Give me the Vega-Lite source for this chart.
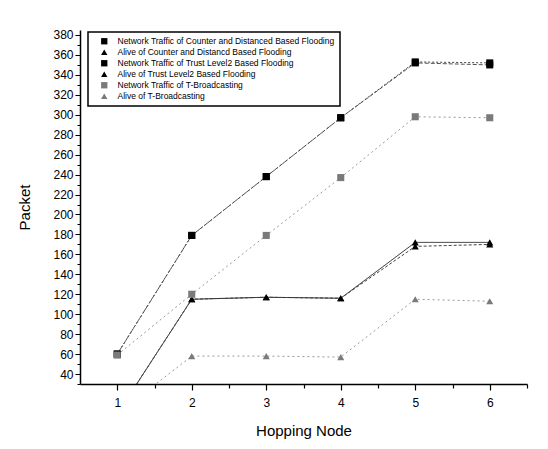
{
  "$schema": "https://vega.github.io/schema/vega-lite/v6.json",
  "autosize": "none",
  "width": 447,
  "height": 354,
  "padding": {"left": 80, "top": 30, "right": 21, "bottom": 65},
  "background": "white",
  "config": {
    "view": {"stroke": null},
    "font": "Liberation Sans",
    "legend": {"strokeWidth": 1.5},
    "axis": {"domainColor": "black", "tickColor": "black", "labelColor": "black", "titleColor": "black", "grid": false, "labelFont": "Liberation Sans", "titleFont": "Liberation Sans", "titleFontWeight": "normal"}
  },
  "data": {
    "values": [
      {"series": "Network Traffic of Counter and Distanced Based Flooding", "node": 1, "packet": 60},
      {"series": "Network Traffic of Counter and Distanced Based Flooding", "node": 2, "packet": 179},
      {"series": "Network Traffic of Counter and Distanced Based Flooding", "node": 3, "packet": 238},
      {"series": "Network Traffic of Counter and Distanced Based Flooding", "node": 4, "packet": 297},
      {"series": "Network Traffic of Counter and Distanced Based Flooding", "node": 5, "packet": 353},
      {"series": "Network Traffic of Counter and Distanced Based Flooding", "node": 6, "packet": 352},
      {"series": "Alive of Counter and Distancd Based Flooding", "node": 1, "packet": 0},
      {"series": "Alive of Counter and Distancd Based Flooding", "node": 2, "packet": 115},
      {"series": "Alive of Counter and Distancd Based Flooding", "node": 3, "packet": 117},
      {"series": "Alive of Counter and Distancd Based Flooding", "node": 4, "packet": 116},
      {"series": "Alive of Counter and Distancd Based Flooding", "node": 5, "packet": 172},
      {"series": "Alive of Counter and Distancd Based Flooding", "node": 6, "packet": 172},
      {"series": "Network Traffic of Trust Level2 Based Flooding", "node": 1, "packet": 60},
      {"series": "Network Traffic of Trust Level2 Based Flooding", "node": 2, "packet": 179},
      {"series": "Network Traffic of Trust Level2 Based Flooding", "node": 3, "packet": 238},
      {"series": "Network Traffic of Trust Level2 Based Flooding", "node": 4, "packet": 297},
      {"series": "Network Traffic of Trust Level2 Based Flooding", "node": 5, "packet": 352},
      {"series": "Network Traffic of Trust Level2 Based Flooding", "node": 6, "packet": 350},
      {"series": "Alive of Trust Level2 Based Flooding", "node": 1, "packet": 0},
      {"series": "Alive of Trust Level2 Based Flooding", "node": 2, "packet": 115},
      {"series": "Alive of Trust Level2 Based Flooding", "node": 3, "packet": 117},
      {"series": "Alive of Trust Level2 Based Flooding", "node": 4, "packet": 116},
      {"series": "Alive of Trust Level2 Based Flooding", "node": 5, "packet": 168},
      {"series": "Alive of Trust Level2 Based Flooding", "node": 6, "packet": 170},
      {"series": "Network Traffic of T-Broadcasting", "node": 1, "packet": 59},
      {"series": "Network Traffic of T-Broadcasting", "node": 2, "packet": 120},
      {"series": "Network Traffic of T-Broadcasting", "node": 3, "packet": 179},
      {"series": "Network Traffic of T-Broadcasting", "node": 4, "packet": 237},
      {"series": "Network Traffic of T-Broadcasting", "node": 5, "packet": 298},
      {"series": "Network Traffic of T-Broadcasting", "node": 6, "packet": 297},
      {"series": "Alive of T-Broadcasting", "node": 1, "packet": 0},
      {"series": "Alive of T-Broadcasting", "node": 2, "packet": 58},
      {"series": "Alive of T-Broadcasting", "node": 3, "packet": 58},
      {"series": "Alive of T-Broadcasting", "node": 4, "packet": 57},
      {"series": "Alive of T-Broadcasting", "node": 5, "packet": 115},
      {"series": "Alive of T-Broadcasting", "node": 6, "packet": 113}
    ]
  },
  "layer": [
    {
      "mark": {"type": "line", "clip": true, "strokeWidth": 1},
      "encoding": {
        "x": {"field": "node", "type": "quantitative", "scale": {"domain": [0.5, 6.5], "nice": false, "zero": false},
              "axis": {"orient": "bottom", "values": [1, 2, 3, 4, 5, 6], "title": "Hopping Node", "titleFontSize": 15, "labelFontSize": 12, "tickSize": 6, "labelPadding": 7, "titlePadding": 15, "domainWidth": 1.5, "tickWidth": 1.2, "labelFlush": false}},
        "y": {"field": "packet", "type": "quantitative", "scale": {"domain": [30, 385], "nice": false, "zero": false},
              "axis": {"orient": "left", "values": [40, 60, 80, 100, 120, 140, 160, 180, 200, 220, 240, 260, 280, 300, 320, 340, 360, 380], "title": "Packet", "titleFontSize": 15, "labelFontSize": 12, "tickSize": 5, "labelPadding": 2, "titlePadding": 20, "domainWidth": 1.5, "labelFlush": false}},
        "stroke": {"field": "series", "type": "nominal", "legend": null,
                  "scale": {"domain": ["Alive of T-Broadcasting", "Network Traffic of T-Broadcasting", "Alive of Trust Level2 Based Flooding", "Network Traffic of Trust Level2 Based Flooding", "Alive of Counter and Distancd Based Flooding", "Network Traffic of Counter and Distanced Based Flooding"],
                            "range": ["#999999", "#999999", "#444444", "#555555", "#222222", "#444444"]}},
        "strokeDash": {"field": "series", "type": "nominal", "legend": null,
                  "scale": {"domain": ["Alive of T-Broadcasting", "Network Traffic of T-Broadcasting", "Alive of Trust Level2 Based Flooding", "Network Traffic of Trust Level2 Based Flooding", "Alive of Counter and Distancd Based Flooding", "Network Traffic of Counter and Distanced Based Flooding"],
                            "range": [[2, 3], [2, 3], [3, 2], [4, 2], [1, 0], [2, 2]]}},
        "order": {"field": "node", "type": "quantitative"}
      }
    },
    {
      "mark": {"type": "point", "filled": true, "clip": true, "opacity": 1, "size": 50},
      "encoding": {
        "x": {"field": "node", "type": "quantitative", "scale": {"domain": [0.5, 6.5], "nice": false, "zero": false},
              "axis": {"orient": "bottom", "values": [1.5, 2.5, 3.5, 4.5, 5.5, 6.5], "labels": false, "title": null, "domain": false, "tickSize": 4, "tickWidth": 1.2}},
        "y": {"field": "packet", "type": "quantitative", "scale": {"domain": [30, 385], "nice": false, "zero": false},
              "axis": {"orient": "left", "values": [30, 50, 70, 90, 110, 130, 150, 170, 190, 210, 230, 250, 270, 290, 310, 330, 350, 370], "labels": false, "title": null, "domain": false, "tickSize": 3}},
        "color": {"field": "series", "type": "nominal",
                  "scale": {"domain": ["Network Traffic of Counter and Distanced Based Flooding", "Alive of Counter and Distancd Based Flooding", "Network Traffic of Trust Level2 Based Flooding", "Alive of Trust Level2 Based Flooding", "Network Traffic of T-Broadcasting", "Alive of T-Broadcasting"],
                            "range": ["#000000", "#000000", "#000000", "#000000", "#7a7a7a", "#7a7a7a"]},
                  "legend": {"title": null, "orient": "none", "legendX": 8, "legendY": 2, "direction": "vertical", "fillColor": "white", "strokeColor": "black", "padding": 5, "labelFontSize": 8.5, "labelFont": "Liberation Sans", "labelColor": "black", "labelLimit": 400, "symbolSize": 40, "rowPadding": 2, "symbolOffset": 7, "labelOffset": 9, "symbolStrokeWidth": 0}},
        "shape": {"field": "series", "type": "nominal",
                  "scale": {"domain": ["Network Traffic of Counter and Distanced Based Flooding", "Alive of Counter and Distancd Based Flooding", "Network Traffic of Trust Level2 Based Flooding", "Alive of Trust Level2 Based Flooding", "Network Traffic of T-Broadcasting", "Alive of T-Broadcasting"],
                            "range": ["square", "triangle-up", "square", "triangle-up", "square", "triangle-up"]},
                  "legend": {"title": null, "orient": "none", "legendX": 8, "legendY": 2}}
      }
    }
  ],
  "resolve": {"axis": {"x": "independent", "y": "independent"}}
}
